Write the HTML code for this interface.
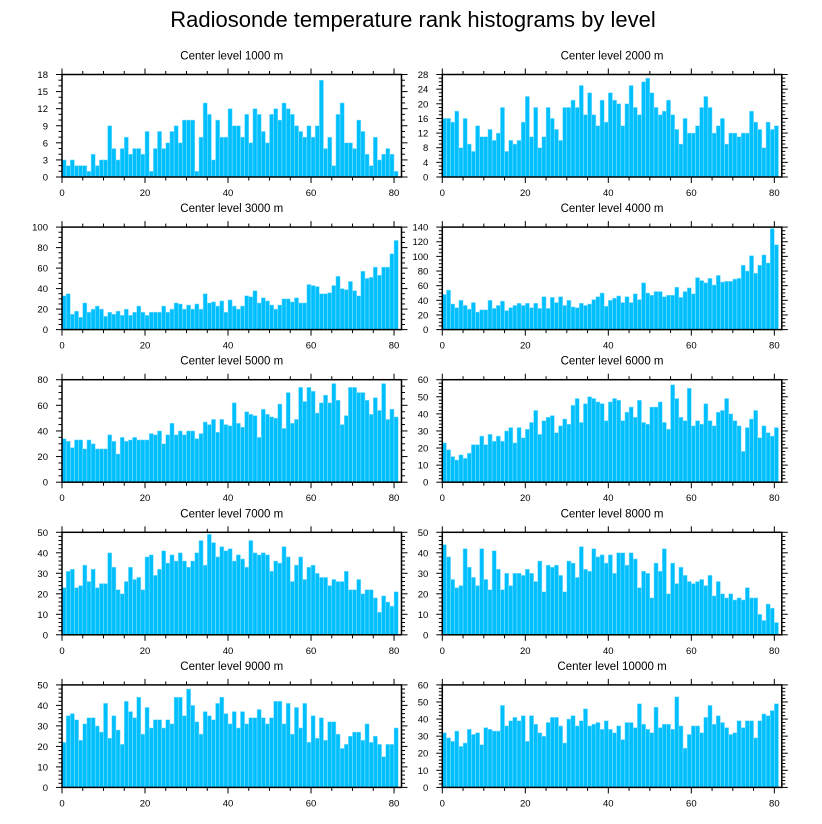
<!DOCTYPE html>
<html><head><meta charset="utf-8"><style>
html,body{margin:0;padding:0;background:#fff;}
svg{display:block;font-family:"Liberation Sans",Arial,sans-serif;}
</style></head><body>
<svg id="chart" width="822" height="824" viewBox="0 0 822 824" xmlns="http://www.w3.org/2000/svg">
<rect width="822" height="824" fill="#fff"/>
<text x="413" y="27" font-size="22" text-anchor="middle" fill="#000">Radiosonde temperature rank histograms by level</text>
</svg>
<script>
const levels = ["1000","2000","3000","4000","5000","6000","7000","8000","9000","10000"];
const yMaxes = [18,28,100,140,80,60,50,50,50,60];
const yMajorSteps = [3,4,20,20,20,10,10,10,10,10];
const xTicks = [0,20,40,60,80];
const v1000 = [3,2,3,2,2,2,1,4,2,3,3,9,5,3,5,7,4,5,5,4,8,1,5,8,5,6,8,9,6,10,10,10,1,7,13,11,3,10,7,7,12,9,9,7,11,6,12,11,8,6,11,12,10,13,12,11,9,8,7,9,7,9,17,5,7,2,11,13,6,6,5,10,8,4,2,7,3,4,5,4,1];
const v2000 = [16,16,15,18,8,16,9,7,14,11,11,13,10,12,19,7,10,9,10,15,22,11,19,8,11,19,16,13,10,19,19,21,19,25,17,23,17,14,21,15,23,21,20,14,20,25,19,17,26,27,23,19,17,18,21,17,13,9,16,12,12,14,19,22,19,12,14,16,9,12,12,11,12,12,18,15,13,8,15,13,14];
const v3000 = [33,35,15,18,12,26,17,20,23,20,13,17,15,18,14,20,14,17,23,17,14,17,17,17,23,17,20,26,25,20,24,20,25,20,35,26,27,23,28,17,29,23,20,23,33,32,38,26,31,28,24,20,24,30,30,27,31,26,26,44,43,42,35,35,36,43,52,40,39,47,38,33,57,50,51,61,53,61,61,74,87];
const v4000 = [48,54,35,30,40,33,28,37,24,27,27,40,29,33,39,26,30,33,36,33,36,30,36,29,45,29,44,37,45,33,40,31,30,36,33,35,41,45,50,32,40,43,46,37,45,37,49,41,64,50,47,52,52,45,47,47,58,44,52,57,49,71,67,64,70,61,74,65,66,66,69,70,88,80,101,77,88,102,91,138,116];
const v5000 = [34,32,27,33,33,26,33,30,26,26,26,37,32,22,35,32,33,35,33,33,33,38,37,40,30,37,46,37,40,37,40,40,34,38,47,45,49,39,49,45,44,62,46,43,55,53,52,35,57,53,51,50,61,42,70,46,49,74,63,74,71,54,62,68,62,77,64,45,52,74,74,70,70,64,53,66,56,77,49,57,51];
const v6000 = [23,19,15,13,16,14,17,22,22,27,22,28,24,27,24,30,32,23,32,26,31,35,42,28,36,38,39,29,33,37,34,45,49,35,46,50,49,47,46,36,47,49,48,36,41,44,38,48,35,34,44,44,47,35,31,57,49,38,36,55,33,36,34,46,36,33,41,42,49,40,36,33,18,32,37,42,26,33,29,27,32];
const v7000 = [23,31,32,23,24,34,26,32,23,25,25,40,33,22,20,26,33,27,28,22,38,39,29,32,41,35,39,36,40,36,33,36,40,46,34,49,45,38,43,41,42,36,39,37,33,46,40,39,40,39,31,36,35,43,38,26,34,38,27,33,34,30,28,28,24,27,26,26,31,22,22,27,20,22,22,18,11,19,16,14,21];
const v8000 = [44,38,27,23,24,42,33,28,24,42,27,22,41,32,22,30,24,30,30,29,32,30,26,36,21,34,33,34,29,21,36,35,28,43,32,31,42,38,39,35,39,30,40,40,34,40,37,23,31,30,18,35,31,42,20,35,25,33,29,26,25,26,27,24,29,19,26,20,18,20,17,18,17,23,18,18,10,7,15,13,6];
const v9000 = [22,35,36,33,23,31,34,34,30,27,41,24,35,28,21,42,37,34,44,26,39,29,33,33,29,33,31,44,44,35,48,40,32,26,37,35,33,41,44,36,31,37,29,37,31,34,34,38,34,31,34,42,42,31,41,26,39,29,41,22,35,24,34,23,32,32,26,19,21,25,27,27,23,31,22,25,21,15,21,21,29];
const v10000 = [32,29,27,33,24,26,34,31,32,25,35,34,33,33,48,36,39,41,39,42,27,42,37,32,30,38,41,41,36,26,40,42,36,39,46,36,37,38,34,39,34,32,36,28,38,38,35,49,37,34,32,47,35,37,37,34,53,36,23,31,36,36,32,41,48,37,42,38,35,31,32,39,35,39,39,29,39,43,42,45,49];
const seriesList = [v1000,v2000,v3000,v4000,v5000,v6000,v7000,v8000,v9000,v10000];

const NS = "http://www.w3.org/2000/svg";
const svg = document.getElementById("chart");
const XMAX = 81.8, PW = 339.5, PH = 102.5;
function mk(tag, attrs, parent){ const e=document.createElementNS(NS,tag); for(const k in attrs) e.setAttribute(k,attrs[k]); parent.appendChild(e); return e; }

for (let p=0; p<10; p++){
  const col = p%2, row = Math.floor(p/2);
  const x0 = col===0 ? 62 : 442.3;
  const y0 = 74.5 + row*152.6;
  const data = seriesList[p], ymax = yMaxes[p], step = yMajorSteps[p];
  const xs = v => x0 + v/XMAX*PW;
  const ys = v => y0 + PH - v/ymax*PH;
  const g = mk("g",{},svg);
  
  
  const t = mk("text",{x:x0+PW/2, y:y0-15, "font-size":11.5, "text-anchor":"middle", fill:"#000"},g);
  t.textContent = "Center level "+levels[p]+" m";
  
  
  for (let i=0;i<data.length;i++){
    const r = mk("rect",{x:xs(i), y:ys(data[i]), width:xs(i+1)-xs(i), height:ys(0)-ys(data[i]), fill:"#00bfff", stroke:"#8fe2ff", "stroke-width":0.5},g);
    
    
  }
  const fr = mk("rect",{x:x0,y:y0,width:PW,height:PH,fill:"none",stroke:"#000","stroke-width":1.5},g);
  
  
  for (let v=0; v<=XMAX; v+=5){
    const major = v%20===0, L = major?6:3.5, X=xs(v);
    mk("line",{x1:X,x2:X,y1:y0+PH,y2:y0+PH+L,stroke:"#000","stroke-width":1},g);
    mk("line",{x1:X,x2:X,y1:y0,y2:y0-L,stroke:"#000","stroke-width":1},g);
  }
  for (const v of xTicks){
    const lt = mk("text",{x:xs(v), y:y0+PH+19, "font-size":9.5, "text-anchor":"middle", fill:"#000"},g);
    lt.textContent = v;
    
    
  }
  const minor = step===3?1:(step===4?1:(step===20?5:2));
  for (let v=0; v<=ymax+1e-9; v+=minor){
    const major = Math.abs(v/step - Math.round(v/step))<1e-9, L = major?6:3.5, Y=ys(v);
    mk("line",{x1:x0,x2:x0-L,y1:Y,y2:Y,stroke:"#000","stroke-width":1},g);
    mk("line",{x1:x0+PW,x2:x0+PW+L,y1:Y,y2:Y,stroke:"#000","stroke-width":1},g);
    if (major){
      const yt = mk("text",{x:x0-14, y:Y+3.5, "font-size":9.5, "text-anchor":"end", fill:"#000"},g);
      yt.textContent = v;
      
      
    }
  }
}
</script>
</body></html>
